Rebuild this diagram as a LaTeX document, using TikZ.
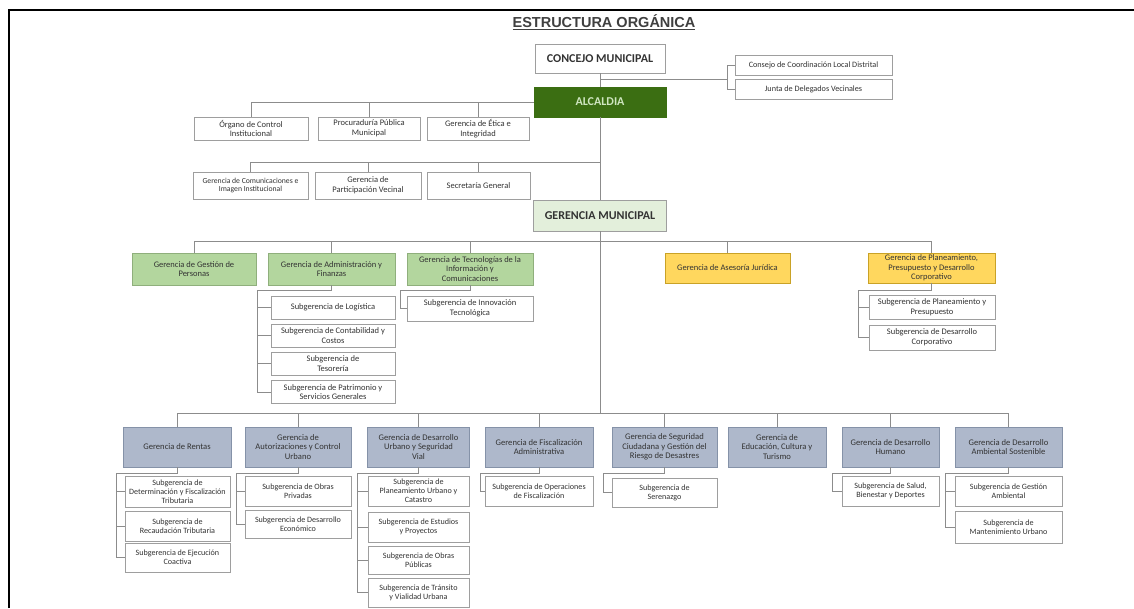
\documentclass[tikz,border=0pt]{standalone}
\usepackage{fontspec}
\setmainfont{Carlito}
\newfontfamily\titlefont{Liberation Sans}
\definecolor{boxgray}{HTML}{9E9E9E}
\definecolor{lngray}{HTML}{8C8C8C}
\definecolor{txt}{HTML}{333333}
\definecolor{titlegray}{HTML}{3F3F3F}
\definecolor{alcfill}{HTML}{3B6E12}
\definecolor{alctext}{HTML}{CFE6C0}
\definecolor{gmfill}{HTML}{E3EFDB}
\definecolor{grfill}{HTML}{B3D69E}
\definecolor{grdraw}{HTML}{8FAF7C}
\definecolor{yefill}{HTML}{FFD75E}
\definecolor{yedraw}{HTML}{C9A227}
\definecolor{blfill}{HTML}{AEB8CB}
\definecolor{bldraw}{HTML}{8592A8}
\begin{document}
\begin{tikzpicture}[x=1pt,y=-1pt,
  box/.style={draw=boxgray, line width=0.8pt, fill=white, align=center, inner sep=1pt, text=txt, font=\fontsize{8.5}{9.6}\selectfont},
  head/.style={box, font=\fontsize{12}{13}\bfseries\selectfont},
  greenbox/.style={box, fill=grfill, draw=grdraw},
  yellowbox/.style={box, fill=yefill, draw=yedraw},
  bluebox/.style={box, fill=blfill, draw=bldraw, font=\fontsize{8.6}{9.7}\selectfont},
  subbox/.style={box, font=\fontsize{8.1}{9.2}\selectfont},
  ln/.style={draw=lngray, line width=0.9pt}]
\useasboundingbox (0,0) rectangle (1134,608);
% frame
\draw[line width=2pt, black] (9,608) -- (9,10) -- (1134,10);
% title
\node[font=\titlefont\bfseries\fontsize{14.5}{16}\selectfont, text=titlegray, inner sep=0pt] (title) at (604,22) {\underline{ESTRUCTURA ORGÁNICA}};

% top
\node[head, minimum width=130pt, minimum height=29pt] (concejo) at (600,58.5) {CONCEJO MUNICIPAL};
\node[head, fill=alcfill, draw=alcfill, text=alctext, minimum width=132pt, minimum height=30pt] (alcaldia) at (600,102) {ALCALDIA};
\node[box, minimum width=157pt, minimum height=20pt, font=\fontsize{8.2}{9}\selectfont] (consejo) at (813.5,65) {Consejo de Coordinación Local Distrital};
\node[box, minimum width=157pt, minimum height=20pt, font=\fontsize{8.2}{9}\selectfont] (junta) at (813.5,89) {Junta de Delegados Vecinales};

\node[box, minimum width=114pt, minimum height=23pt] (organo) at (251,128.5) {Órgano de Control\\Institucional};
\node[box, minimum width=102pt, minimum height=23pt] (procur) at (369,128.5) {Procuraduría Pública\\Municipal};
\node[box, minimum width=102pt, minimum height=23pt] (etica) at (478,128.5) {Gerencia de Ética e\\Integridad};

\node[box, minimum width=115pt, minimum height=27pt, font=\fontsize{7.7}{8.8}\selectfont] (comunic) at (250.5,185.5) {Gerencia de Comunicaciones e\\Imagen Institucional};
\node[box, minimum width=106pt, minimum height=27pt] (particip) at (368,185.5) {Gerencia de\\Participación Vecinal};
\node[box, minimum width=103pt, minimum height=27pt] (secret) at (478.5,185.5) {Secretaría General};

\node[head, fill=gmfill, minimum width=133pt, minimum height=31pt] (germun) at (600,215.5) {GERENCIA MUNICIPAL};

% level 3
\node[greenbox, minimum width=124pt, minimum height=32pt] (personas) at (194,269) {Gerencia de Gestión de\\Personas};
\node[greenbox, minimum width=127pt, minimum height=32pt] (admin) at (331.5,269) {Gerencia de Administración y\\Finanzas};
\node[greenbox, minimum width=126pt, minimum height=32pt] (tic) at (470,269) {Gerencia de Tecnologías de la\\Información y\\Comunicaciones};
\node[yellowbox, minimum width=125pt, minimum height=30pt] (asesoria) at (727.5,268) {Gerencia de Asesoría Jurídica};
\node[yellowbox, minimum width=127pt, minimum height=30pt] (planeam) at (931.5,268) {Gerencia de Planeamiento,\\Presupuesto y Desarrollo\\Corporativo};

\node[box, minimum width=124pt, minimum height=23pt] (logist) at (333,307.5) {Subgerencia de Logística};
\node[box, minimum width=124pt, minimum height=23pt] (contab) at (333,335.5) {Subgerencia de Contabilidad y\\Costos};
\node[box, minimum width=124pt, minimum height=23pt] (tesor) at (333,363.5) {Subgerencia de\\Tesorería};
\node[box, minimum width=124pt, minimum height=23pt] (patrim) at (333,392) {Subgerencia de Patrimonio y\\Servicios Generales};
\node[box, minimum width=126pt, minimum height=25pt] (innov) at (470,308.5) {Subgerencia de Innovación\\Tecnológica};
\node[box, minimum width=126pt, minimum height=24pt] (planpres) at (932,307) {Subgerencia de Planeamiento y\\Presupuesto};
\node[box, minimum width=126pt, minimum height=25pt] (descorp) at (932,337.5) {Subgerencia de Desarrollo\\Corporativo};

% bottom level
\node[bluebox, minimum width=108pt, minimum height=40pt] (rentas) at (177,447) {Gerencia de Rentas};
\node[bluebox, minimum width=106pt, minimum height=40pt] (autoriz) at (298,447) {Gerencia de\\Autorizaciones y Control\\Urbano};
\node[bluebox, minimum width=102pt, minimum height=40pt] (urbano) at (418.5,447) {Gerencia de Desarrollo\\Urbano y Seguridad\\Vial};
\node[bluebox, minimum width=108pt, minimum height=40pt] (fiscal) at (539,447) {Gerencia de Fiscalización\\Administrativa};
\node[bluebox, minimum width=105pt, minimum height=40pt] (segur) at (664.5,447) {Gerencia de Seguridad\\Ciudadana y Gestión del\\Riesgo de Desastres};
\node[bluebox, minimum width=98pt, minimum height=40pt] (educ) at (777,447) {Gerencia de\\Educación, Cultura y\\Turismo};
\node[bluebox, minimum width=97pt, minimum height=40pt] (humano) at (890.5,447) {Gerencia de Desarrollo\\Humano};
\node[bluebox, minimum width=107pt, minimum height=40pt] (ambiental) at (1008.5,447) {Gerencia de Desarrollo\\Ambiental Sostenible};

\node[subbox, minimum width=105pt, minimum height=31pt] (determ) at (177.5,491.5) {Subgerencia de\\Determinación y Fiscalización\\Tributaria};
\node[subbox, minimum width=105pt, minimum height=30pt] (recaud) at (177.5,526) {Subgerencia de\\Recaudación Tributaria};
\node[subbox, minimum width=105pt, minimum height=29pt] (ejec) at (177.5,557.5) {Subgerencia de Ejecución\\Coactiva};

\node[subbox, minimum width=106pt, minimum height=30pt] (obpriv) at (298,491) {Subgerencia de Obras\\Privadas};
\node[subbox, minimum width=106pt, minimum height=28pt] (deseco) at (298,524) {Subgerencia de Desarrollo\\Económico};

\node[subbox, minimum width=101pt, minimum height=30pt] (planurb) at (418.5,491) {Subgerencia de\\Planeamiento Urbano y\\Catastro};
\node[subbox, minimum width=101pt, minimum height=30pt] (estud) at (418.5,527) {Subgerencia de Estudios\\y Proyectos};
\node[subbox, minimum width=101pt, minimum height=28pt] (obpub) at (418.5,560) {Subgerencia de Obras\\Públicas};
\node[subbox, minimum width=101pt, minimum height=29pt] (transito) at (418.5,592.5) {Subgerencia de Tránsito\\y Vialidad Urbana};

\node[subbox, minimum width=108pt, minimum height=30pt] (operac) at (539,491) {Subgerencia de Operaciones\\de Fiscalización};
\node[subbox, minimum width=105pt, minimum height=29pt] (sereno) at (664.5,492.5) {Subgerencia de\\Serenazgo};
\node[subbox, minimum width=97pt, minimum height=30pt] (salud) at (890.5,491) {Subgerencia de Salud,\\Bienestar y Deportes};
\node[subbox, minimum width=107pt, minimum height=30pt] (gestamb) at (1008.5,491) {Subgerencia de Gestión\\Ambiental};
\node[subbox, minimum width=107pt, minimum height=32pt] (mant) at (1008.5,527) {Subgerencia de\\Mantenimiento Urbano};

% coordinates
\coordinate (cr) at (600,79);
\coordinate (rb) at (727,79);
\coordinate (c2) at (600,162);
\coordinate (c3) at (600,241);
\coordinate (cbot) at (600,413);
\coordinate (adminb) at (257,290);
\coordinate (ticb) at (400,290);
\coordinate (planb) at (858,290);
\coordinate (rentasb) at (116,473);
\coordinate (autorizb) at (236,473);
\coordinate (urbanob) at (357,473);
\coordinate (fiscalb) at (480,473);
\coordinate (segurb) at (603,473);
\coordinate (humanob) at (832,473);
\coordinate (ambb) at (945,473);

% connectors
\draw[ln] (concejo.south) -- (alcaldia.north);
\draw[ln] (alcaldia.south) -- (germun.north);
\draw[ln] (germun.south) -- (cbot);
\draw[ln] (cr) -- (rb);
\draw[ln] (rb) |- (consejo.west);
\draw[ln] (rb) |- (junta.west);
\foreach \n in {organo,procur,etica} \draw[ln] (alcaldia.west) -| (\n.north);
\foreach \n in {comunic,particip,secret} \draw[ln] (c2) -| (\n.north);
\foreach \n in {personas,admin,tic,asesoria,planeam} \draw[ln] (c3) -| (\n.north);
\draw[ln] (admin.south) |- (adminb);
\foreach \n in {logist,contab,tesor,patrim} \draw[ln] (adminb) |- (\n.west);
\draw[ln] (tic.south) |- (ticb);
\draw[ln] (ticb) |- (innov.west);
\draw[ln] (planeam.south) |- (planb);
\foreach \n in {planpres,descorp} \draw[ln] (planb) |- (\n.west);
\foreach \n in {rentas,autoriz,urbano,fiscal,segur,educ,humano,ambiental} \draw[ln] (cbot) -| (\n.north);
\draw[ln] (rentas.south) |- (rentasb);
\foreach \n in {determ,recaud,ejec} \draw[ln] (rentasb) |- (\n.west);
\draw[ln] (autoriz.south) |- (autorizb);
\foreach \n in {obpriv,deseco} \draw[ln] (autorizb) |- (\n.west);
\draw[ln] (urbano.south) |- (urbanob);
\foreach \n in {planurb,estud,obpub,transito} \draw[ln] (urbanob) |- (\n.west);
\draw[ln] (fiscal.south) |- (fiscalb);
\draw[ln] (fiscalb) |- (operac.west);
\draw[ln] (segur.south) |- (segurb);
\draw[ln] (segurb) |- (sereno.west);
\draw[ln] (humano.south) |- (humanob);
\draw[ln] (humanob) |- (salud.west);
\draw[ln] (ambiental.south) |- (ambb);
\foreach \n in {gestamb,mant} \draw[ln] (ambb) |- (\n.west);
\end{tikzpicture}
\end{document}
